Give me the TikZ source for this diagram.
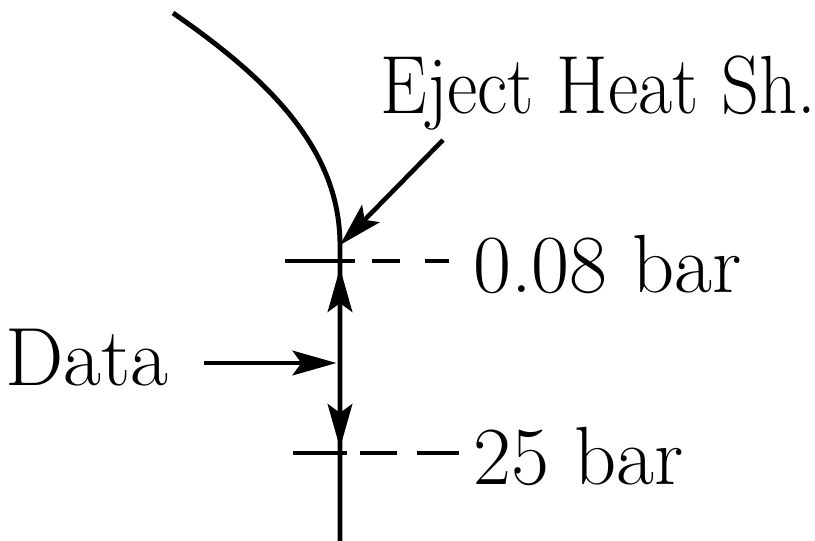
\documentclass[tikz,border=0pt]{standalone}
\usepackage{graphicx}
\usetikzlibrary{arrows.meta, calc}
\tikzset{
  lbl/.style={inner sep=0pt, anchor=base west, font=\fontsize{47}{50}\selectfont},
  trace/.style={line width=2.8pt},
  flowarr/.style={-{Stealth[length=25pt, width=14pt, inset=5pt]}, line width=2.6pt},
  lead/.style={line width=2.6pt},
}
\begin{document}
\begin{tikzpicture}[x=0.02cm, y=-0.02cm]
  \useasboundingbox (0,0) rectangle (815,541);
  % labels
  \node[lbl] (eject) at (380,113) {\scalebox{0.9}[1]{Eject Heat Sh.}};
  \node[lbl] (plow) at (473,292) {0.08 bar};
  \node[lbl] (phigh) at (473,484) {25 bar};
  \node[lbl] (data) at (5,385) {Data};
  % points on the trace
  \coordinate (start) at (173,13);
  \coordinate (knee) at (340,245);
  \coordinate (bottom) at (340,541);
  \coordinate (hit) at (340,363);
  \coordinate (uptip) at (340,268);
  \coordinate (downtip) at (340,448);
  \coordinate (ejtail) at (443,140);
  \coordinate (tlow) at (285,261);
  \coordinate (thigh) at (293,453);
  % trajectory
  \draw[trace] (start) .. controls (270,80) and (340,150) .. (knee) -- (bottom);
  % pressure marks
  \draw[lead, dash pattern=on 39.7pt off 9.6pt on 15.9pt off 14.2pt on 14.2pt off 17pt]
    (tlow) -- (tlow -| plow.west);
  \draw[lead, dash pattern=on 30.6pt off 7.4pt on 21pt off 11.3pt on 24.4pt off 10pt]
    (thigh) -- (thigh -| phigh.west);
  % arrows
  \draw[flowarr] (ejtail) -- (knee);
  \draw[flowarr, shorten <=20pt] (data.east |- hit) -- ([xshift=-2pt]hit);
  \draw[flowarr] (hit) -- (uptip);
  \draw[flowarr] (hit) -- (downtip);
\end{tikzpicture}
\end{document}
